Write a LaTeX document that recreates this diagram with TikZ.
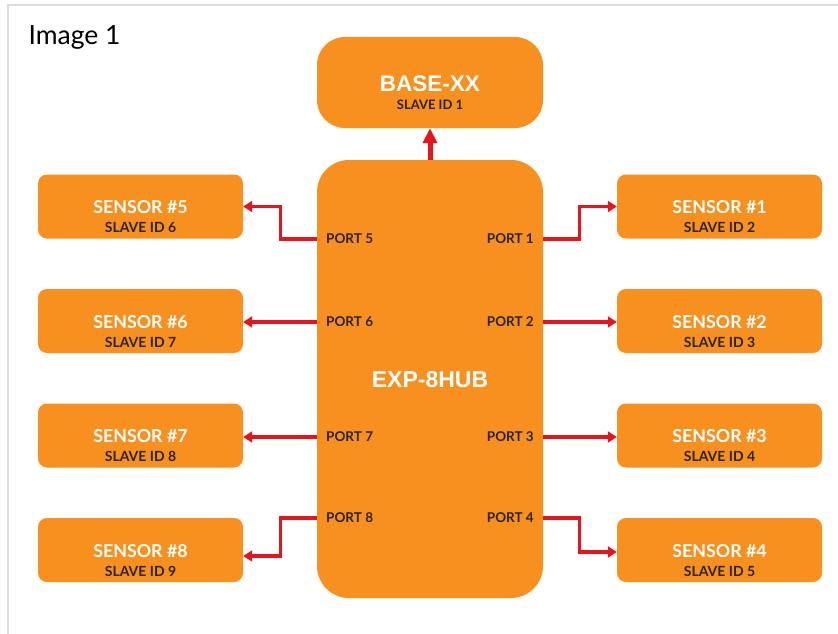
\documentclass[tikz,border=0pt]{standalone}
\usepackage{fontspec}
\setmainfont{Lato}
\newfontfamily\headfont{Liberation Sans}
\usetikzlibrary{arrows.meta,calc}
\definecolor{boxorange}{HTML}{F7901E}
\definecolor{linkred}{HTML}{E8141B}
\definecolor{darktext}{HTML}{2A2420}
\definecolor{framegray}{HTML}{DDDDDD}
\tikzset{
  sensor/.style={draw=none,fill=boxorange,rounded corners=9pt,minimum width=205pt,minimum height=64pt,inner sep=0pt},
  bigbox/.style={draw=none,fill=boxorange,inner sep=0pt},
  stitle/.style={anchor=base,inner sep=0pt,text=white,font=\fontsize{17.8}{17.8}\selectfont\bfseries},
  ssub/.style={anchor=base,inner sep=0pt,text=darktext,font=\fontsize{14}{14}\selectfont\bfseries},
  portl/.style={inner sep=0pt,text=darktext,font=\fontsize{13.5}{13.5}\selectfont\bfseries},
  headt/.style={anchor=base,inner sep=0pt,text=white,font=\headfont\bfseries\fontsize{22.5}{22.5}\selectfont},
  conn/.style={draw=linkred,line width=3.2pt,-{Triangle[length=9pt,width=11pt]}},
  upconn/.style={draw=linkred,line width=5pt,-{Triangle[length=15pt,width=14pt]}},
  framel/.style={draw=framegray,line width=2.5pt}
}
\begin{document}
\begin{tikzpicture}[x=1pt,y=-1pt]
\useasboundingbox (0,0) rectangle (838,634);
\fill[white] (0,0) rectangle (838,634);
\draw[framel] (8,634) -- (8,5) -- (838,5);
\node[anchor=base west,inner sep=0pt,font=\fontsize{26.5}{26.5}\selectfont] (img) at (28.5,44.5) {Image 1};

% big boxes
\node[bigbox,rounded corners=28pt,minimum width=226pt,minimum height=91pt] (base) at (430,82.5) {};
\node[headt] (baset) at (430,92) {BASE-XX};
\node[ssub,font=\fontsize{13}{13}\selectfont\bfseries] (bases) at (430,110) {SLAVE ID 1};
\node[bigbox,rounded corners=32pt,minimum width=226pt,minimum height=438pt] (hub) at (430,379) {};
\node[headt,font=\headfont\bfseries\fontsize{23}{23}\selectfont] (hubt) at (430,387) {EXP-8HUB};

% sensors left
\node[sensor] (s5) at (140.5,206.5) {};
\node[stitle] (s5t) at (140.5,213.5) {SENSOR \#5};
\node[ssub] (s5s) at (140.5,232.5) {SLAVE ID 6};
\node[sensor] (s6) at (140.5,321) {};
\node[stitle] (s6t) at (140.5,328) {SENSOR \#6};
\node[ssub] (s6s) at (140.5,347) {SLAVE ID 7};
\node[sensor] (s7) at (140.5,435.5) {};
\node[stitle] (s7t) at (140.5,442.5) {SENSOR \#7};
\node[ssub] (s7s) at (140.5,461.5) {SLAVE ID 8};
\node[sensor] (s8) at (140.5,550) {};
\node[stitle] (s8t) at (140.5,557) {SENSOR \#8};
\node[ssub] (s8s) at (140.5,576) {SLAVE ID 9};
% sensors right
\node[sensor] (s1) at (719.5,206.5) {};
\node[stitle] (s1t) at (719.5,213.5) {SENSOR \#1};
\node[ssub] (s1s) at (719.5,232.5) {SLAVE ID 2};
\node[sensor] (s2) at (719.5,321) {};
\node[stitle] (s2t) at (719.5,328) {SENSOR \#2};
\node[ssub] (s2s) at (719.5,347) {SLAVE ID 3};
\node[sensor] (s3) at (719.5,435.5) {};
\node[stitle] (s3t) at (719.5,442.5) {SENSOR \#3};
\node[ssub] (s3s) at (719.5,461.5) {SLAVE ID  4};
\node[sensor] (s4) at (719.5,550) {};
\node[stitle] (s4t) at (719.5,557) {SENSOR \#4};
\node[ssub] (s4s) at (719.5,576) {SLAVE ID 5};

% port labels
\node[portl,anchor=west] (p5) at (326,239) {PORT 5};
\node[portl,anchor=west] (p6) at (326,322) {PORT 6};
\node[portl,anchor=west] (p7) at (326,437) {PORT 7};
\node[portl,anchor=west] (p8) at (326,518) {PORT 8};
\node[portl,anchor=east] (p1) at (534,239) {PORT 1};
\node[portl,anchor=east] (p2) at (534,322) {PORT 2};
\node[portl,anchor=east] (p3) at (534,437) {PORT 3};
\node[portl,anchor=east] (p4) at (534,518) {PORT 4};

% connectors
\draw[upconn] (hub.north) -- (base.south);
\draw[conn] (hub.west |- p5) -| ($(s5.east)+(37,0)$) -- (s5.east);
\draw[conn] (hub.west |- p6) -- (s6.east |- p6);
\draw[conn] (hub.west |- p7) -- (s7.east |- p7);
\draw[conn] (hub.west |- p8) -| ($(s8.east)+(37,6)$) -- ([yshift=-6pt]s8.east);
\draw[conn] (hub.east |- p1) -| ($(s1.west)+(-37,0)$) -- (s1.west);
\draw[conn] (hub.east |- p2) -- (s2.west |- p2);
\draw[conn] (hub.east |- p3) -- (s3.west |- p3);
\draw[conn] (hub.east |- p4) -| ($(s4.west)+(-37,2)$) -- ([yshift=-2pt]s4.west);
\end{tikzpicture}
\end{document}
